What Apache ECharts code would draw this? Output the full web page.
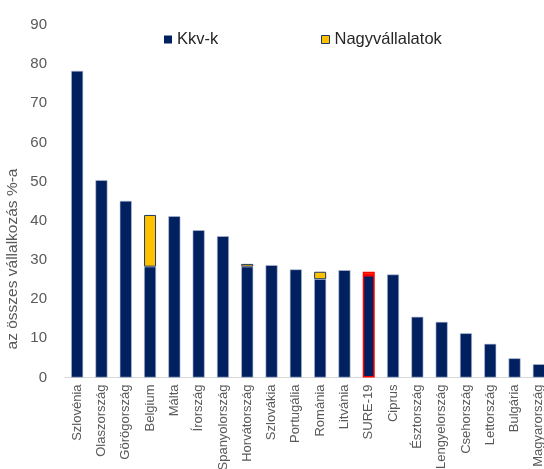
<!DOCTYPE html>
<html>
<head>
<meta charset="utf-8">
<script src="https://cdn.jsdelivr.net/npm/echarts@6/dist/echarts.min.js"></script>
<style>html,body{margin:0;padding:0;background:#fff}#c{width:544px;height:469px}</style>
</head>
<body>
<div id="c"></div>
<script>
var categories = ['Szlovénia','Olaszország','Görögország','Belgium','Málta','Írország','Spanyolország','Horvátország','Szlovákia','Portugália','Románia','Litvánia','SURE-19','Ciprus','Észtország','Lengyelország','Csehország','Lettország','Bulgária','Magyarország'];
var kkv = [78.3,50.4,45.1,28.3,41.2,37.6,36.1,28.3,28.7,27.6,25.1,27.4,26.2,26.3,15.5,14.2,11.3,8.6,4.9,3.4];
var nagy = [0,0,0,13.2,0,0,0,0.7,0,0,1.9,0,0.8,0,0,0,0,0,0,0];
var yTicks = [0,10,20,30,40,50,60,70,80,90];
var yName = 'az összes vállalkozás %-a';
var highlight = 'SURE-19';

var navy = '#002060', yellow = '#FFC000';
var FF = 'Liberation Sans, Arial, sans-serif';
function mk(vals){
  return vals.map(function(v,i){
    if(v===0) return '-';
    var it = {value:v};
    if(categories[i]===highlight){
      it.itemStyle = {borderColor:'#FF0000', borderWidth:1.5};
    }
    return it;
  });
}
var chart = echarts.init(document.getElementById('c'), null, {renderer:'canvas'});
chart.setOption({
  animation:false,
  textStyle:{fontFamily:FF},
  grid:{left:65, right:-7, top:25, bottom:91.5, containLabel:false, outerBoundsMode:'none'},
  legend:[
    {data:['Kkv-k'], left:164, top:31, padding:0, itemWidth:8, itemHeight:8, icon:'rect',
     itemStyle:{color:navy, borderColor:navy, borderWidth:0},
     textStyle:{fontSize:16.5, color:'#262626', fontFamily:FF}},
    {data:['Nagyvállalatok'], left:321, top:31, padding:0, itemWidth:8, itemHeight:8, icon:'rect',
     itemStyle:{color:yellow, borderColor:'#1f3864', borderWidth:1},
     textStyle:{fontSize:16.5, color:'#262626', fontFamily:FF}}
  ],
  graphic:[{
    type:'text', x:13, y:259, rotation:Math.PI/2,
    style:{text:yName, fontSize:15.5, fill:'#595959', font:'15.5px Liberation Sans, Arial, sans-serif', textAlign:'center', textVerticalAlign:'middle'}
  }],
  xAxis:{
    type:'category', data:categories,
    axisLine:{lineStyle:{color:'#d9d9d9', width:1}},
    axisTick:{show:false},
    axisLabel:{rotate:90, fontSize:13, color:'#595959', margin:7, interval:0}
  },
  yAxis:{
    type:'value', min:0, max:90, interval:10,
    axisLine:{show:false}, axisTick:{show:false}, splitLine:{show:false},
    axisLabel:{fontSize:15, color:'#595959', margin:18}
  },
  series:[
    {name:'Kkv-k', type:'bar', stack:'t', barWidth:12, data:mk(kkv),
     itemStyle:{color:navy, borderColor:'#b8c2da', borderWidth:0.6}},
    {name:'Nagyvállalatok', type:'bar', stack:'t', barWidth:12, data:mk(nagy),
     itemStyle:{color:yellow, borderColor:'#1f3864', borderWidth:1}}
  ]
});
</script>
</body>
</html>
